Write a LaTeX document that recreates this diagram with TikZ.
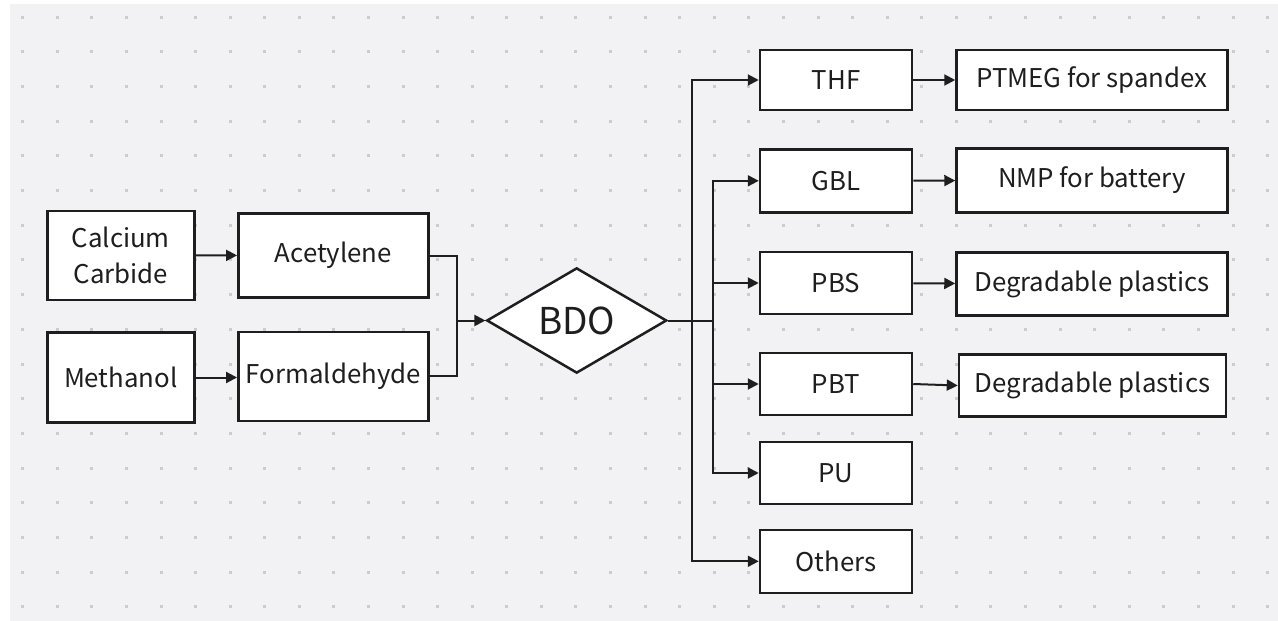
\documentclass[tikz,border=0pt]{standalone}
\usepackage{fontspec}
\setmainfont{Noto Sans CJK SC}
\usetikzlibrary{arrows.meta,shapes.geometric}
\definecolor{canvas}{RGB}{242,242,244}
\definecolor{dotgray}{RGB}{204,204,206}
\definecolor{ink}{RGB}{30,30,30}

\tikzset{
    box/.style={draw=ink, line width=2.5pt, fill=white, inner sep=0pt, align=center,
        text=ink, font=\fontsize{25.8}{36}\selectfont},
    link/.style={ink, line width=2pt},
}

\begin{document}
\begin{tikzpicture}[x=1pt, y=-1pt, >={Triangle[length=11pt,width=11pt]}]

    % Canvas and dot grid
    \useasboundingbox (0,0) rectangle (1278,621);
    \fill[canvas] (10,4) rectangle (1278,621);
    \foreach \i in {0,...,36} {
        \foreach \j in {0,...,17} {
            \fill[dotgray] (21.2+34.58*\i, 15.8+34.67*\j) rectangle ++(3,3);
        }
    }

    % Raw materials
    \node[box, minimum width=147pt, minimum height=89pt] (calcium) at (120.8,255.3) {Calcium\\Carbide};
    \node[box, minimum width=147pt, minimum height=90pt] (methanol) at (120.8,377.5) {Methanol};

    % Intermediates
    \node[box, minimum width=190pt, minimum height=84pt] (acetylene) at (333.3,255.5) {Acetylene};
    \node[box, minimum width=190pt, minimum height=89pt] (formaldehyde) at (333.3,376.3) {Formaldehyde};

    % Product
    \node[diamond, draw=ink, line width=2.5pt, fill=white, inner sep=0pt, text=ink,
        minimum width=180pt, minimum height=102pt, font=\fontsize{37}{44}\selectfont]
        (bdo) at (576.7,320.5) {BDO};

    % Derivatives
    \node[box, minimum width=152pt, minimum height=60pt] (thf) at (836,80) {THF};
    \node[box, minimum width=152pt, minimum height=63pt] (gbl) at (836,180.8) {GBL};
    \node[box, minimum width=152pt, minimum height=62pt] (pbs) at (836,283) {PBS};
    \node[box, minimum width=152pt, minimum height=62pt] (pbt) at (836,384) {PBT};
    \node[box, minimum width=152pt, minimum height=62pt] (pu) at (836,473) {PU};
    \node[box, minimum width=152pt, minimum height=63pt] (others) at (836,561.3) {Others};

    % End uses
    \node[box, minimum width=271pt, minimum height=60pt] (ptmeg) at (1092,80) {PTMEG for spandex};
    \node[box, minimum width=271pt, minimum height=64pt] (nmp) at (1092,180.3) {NMP for battery};
    \node[box, minimum width=271pt, minimum height=63pt] (plasticA) at (1092,284) {Degradable plastics};
    \node[box, minimum width=267pt, minimum height=62pt] (plasticB) at (1092.5,385.5) {Degradable plastics};

    % Junction points
    \coordinate (merge) at (457,320.5);
    \coordinate (outer) at (692,320.5);
    \coordinate (inner) at (713,320.5);

    % Raw materials to BDO
    \draw[link, ->] (calcium) -- (acetylene);
    \draw[link, ->] (methanol.east) -- (formaldehyde.west |- methanol.east);
    \draw[link] (acetylene.east) -| (merge);
    \draw[link] (formaldehyde.east) -| (merge);
    \draw[link, ->] (merge) -- (bdo.west);

    % BDO to derivatives
    \draw[link] (bdo.east) -- (inner);
    \draw[link, ->] (outer) |- (thf.west);
    \draw[link, ->] (outer) |- (others.west);
    \draw[link, ->] (inner) |- (gbl.west);
    \draw[link, ->] (inner) |- (pbs.west);
    \draw[link, ->] (inner) |- (pbt.west);
    \draw[link, ->] (inner) |- (pu.west);

    % Derivatives to end uses
    \draw[link, ->] (thf) -- (ptmeg);
    \draw[link, ->] (gbl) -- (nmp);
    \draw[link, ->] (pbs) -- (plasticA);
    \draw[link, ->] (pbt.east) -- (plasticB.west);

\end{tikzpicture}
\end{document}
